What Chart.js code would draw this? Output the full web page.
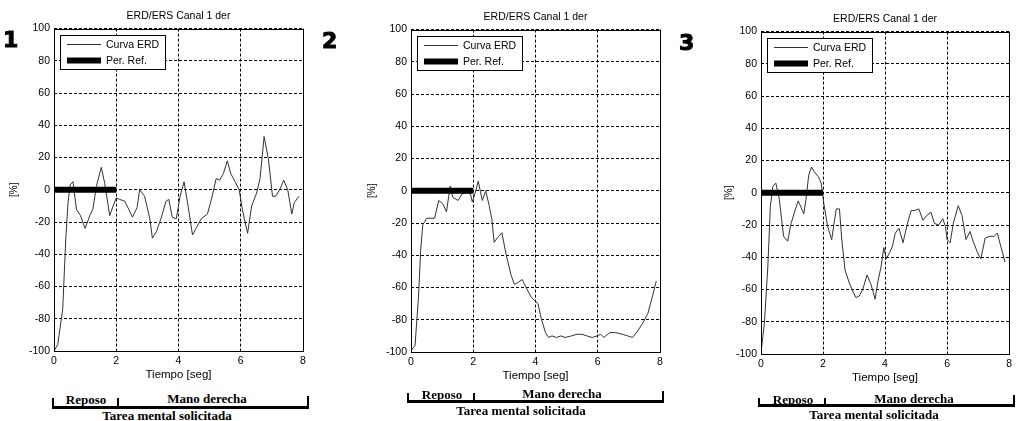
<!DOCTYPE html>
<html>
<head>
<meta charset="utf-8">
<script src="https://cdn.jsdelivr.net/npm/chart.js@4.4.0/dist/chart.umd.min.js"></script>
<style>
  html, body { margin: 0; padding: 0; background: #fff; }
  body { width: 1016px; height: 421px; overflow: hidden; position: relative; font-family: "Liberation Sans", Arial, sans-serif; }
  .panel { position: absolute; }
  .num { position: absolute; font: bold 22px "DejaVu Sans", sans-serif; line-height: 22px; color: #000; -webkit-text-stroke: 1px #000; }
  .br-line { position: absolute; background: #000; }
  .br-text { position: absolute; width: 200px; text-align: center; font: bold 13px "Liberation Serif", "Times New Roman", serif; line-height: 14px; color: #000; white-space: nowrap; }
</style>
</head>
<body>

<canvas id="chart1" class="panel" width="320" height="390" style="left:0px; top:0px;"></canvas>
<canvas id="chart2" class="panel" width="320" height="390" style="left:357px; top:1px;"></canvas>
<canvas id="chart3" class="panel" width="309" height="390" style="left:707px; top:3px;"></canvas>

<div class="num" style="left:3px; top:29px;">1</div>
<div class="num" style="left:322px; top:30px;">2</div>
<div class="num" style="left:679px; top:32px;">3</div>

<script>
const chartTitle = 'ERD/ERS Canal 1 der';
const xTickValues = [0, 2, 4, 6, 8];
const yTickValues = [-100, -80, -60, -40, -20, 0, 20, 40, 60, 80, 100];

// reference period (Per. Ref.)
const refTimes = [0, 2];
const refValues = [0, 0];

// panel 1
const times1 = [0, 0.12, 0.28, 0.38, 0.45, 0.52, 0.61, 0.72, 0.85, 1.0, 1.15, 1.25, 1.36, 1.52, 1.63, 1.79, 1.9, 2.0, 2.11, 2.27,
  2.4, 2.52, 2.67, 2.75, 2.91, 3.08, 3.16, 3.29, 3.45, 3.6, 3.69, 3.8, 3.93, 4.05, 4.18, 4.29, 4.45, 4.56, 4.73, 4.93,
  5.07, 5.21, 5.32, 5.44, 5.57, 5.68, 5.82, 5.95, 6.05, 6.14, 6.22, 6.35, 6.51, 6.62, 6.75, 6.89, 7.02, 7.12, 7.25, 7.38,
  7.51, 7.64, 7.72, 7.87];
const erd1 = [-100, -96, -74, -30, -8, 3, 5, -12, -16, -24, -16, -12, 2, 14, 4, -16, -10, -5, -6, -7,
  -12, -17, -11, 0, -4, -18, -30, -26, -17, -7, -6, -17, -18, -4, 5, -8, -28, -24, -18, -15,
  -5, 7, 6, 10, 18, 10, 5, 0, -12, -20, -27, -10, -2, 7, 33, 19, -4, -4, 0, 6,
  0, -15, -8, -4];

// panel 2
const times2 = [0, 0.13, 0.24, 0.31, 0.38, 0.51, 0.76, 0.89, 1.02, 1.14, 1.26, 1.34, 1.51, 1.64, 1.77, 1.91, 1.97, 2.08, 2.16, 2.29,
  2.4, 2.51, 2.6, 2.67, 2.78, 2.92, 3.05, 3.21, 3.32, 3.43, 3.57, 3.7, 3.86, 3.97, 4.08, 4.18, 4.32, 4.42, 4.53, 4.67,
  4.82, 4.95, 5.16, 5.33, 5.49, 5.65, 5.82, 5.98, 6.09, 6.2, 6.38, 6.58, 6.79, 6.96, 7.12, 7.28, 7.45, 7.61, 7.75, 7.88];
const erd2 = [-99, -96, -66, -37, -21, -17, -17, -6, -8, -13, 3, -4, -6, -2, -1, -2, -7, 0, 6, -6,
  0, -9, -18, -32, -29, -26, -39, -52, -58, -57, -55, -60, -66, -68, -70, -79, -88, -91, -90, -91,
  -90, -91, -90, -89, -89, -90, -91, -90, -89, -91, -88, -88, -89, -90, -91, -87, -82, -76, -66, -56];

// panel 3
const times3 = [0, 0.11, 0.22, 0.3, 0.38, 0.48, 0.59, 0.73, 0.86, 0.97, 1.08, 1.2, 1.29, 1.38, 1.45, 1.54, 1.63, 1.72, 1.85, 1.94,
  2.02, 2.15, 2.28, 2.37, 2.43, 2.53, 2.6, 2.71, 2.85, 2.96, 3.06, 3.17, 3.28, 3.42, 3.55, 3.68, 3.76, 3.87, 3.96, 4.04,
  4.15, 4.24, 4.33, 4.45, 4.58, 4.71, 4.84, 4.95, 5.09, 5.22, 5.35, 5.48, 5.59, 5.73, 5.86, 5.95, 6.0, 6.1, 6.2, 6.36,
  6.48, 6.61, 6.74, 6.84, 6.98, 7.09, 7.23, 7.38, 7.52, 7.62, 7.73, 7.87];
const erd3 = [-99, -81, -46, -9, 4, 6, -4, -27, -30, -19, -12, -5, -9, -13, -4, 11, 16, 13, 10, 6,
  -6, -21, -29, -17, -10, -10, -28, -48, -56, -61, -65, -64, -60, -51, -57, -66, -56, -46, -34, -41,
  -37, -33, -25, -22, -31, -20, -11, -11, -10, -17, -14, -12, -19, -20, -16, -21, -29, -31, -19, -8,
  -14, -29, -24, -30, -37, -41, -28, -27, -27, -25, -33, -43];

const FONT = '"Liberation Sans", Arial, sans-serif';

// axes box + legend drawn inside the plot area, matlab style
const axesBox = {
  id: 'axesBox',
  afterDatasetsDraw(chart) {
    const { ctx, chartArea: a } = chart;
    ctx.save();
    ctx.strokeStyle = '#000';
    ctx.lineWidth = 1;
    ctx.setLineDash([]);
    const l = Math.round(a.left) + 0.5, t = Math.round(a.top) + 0.5;
    ctx.strokeRect(l, t, Math.round(a.right) - Math.round(a.left), Math.round(a.bottom) - Math.round(a.top));

    const bx = Math.round(a.left) + 6, by = Math.round(a.top) + 6;
    ctx.fillStyle = '#fff';
    ctx.fillRect(bx, by, 105, 34);
    ctx.strokeRect(bx + 0.5, by + 0.5, 105, 34);
    ctx.font = '10.5px ' + FONT;
    ctx.textBaseline = 'middle';
    chart.data.datasets.forEach((ds, i) => {
      const ly = by + 9 + i * 16;
      ctx.beginPath();
      ctx.lineWidth = ds.borderWidth;
      ctx.strokeStyle = ds.borderColor;
      ctx.moveTo(bx + 7, ly + 0.5);
      ctx.lineTo(bx + 41, ly + 0.5);
      ctx.stroke();
      ctx.fillStyle = '#000';
      ctx.fillText(ds.label, bx + 46, ly + 1);
    });
    ctx.restore();
  }
};

function makePanel(id, times, values, opts) {
  return new Chart(document.getElementById(id), {
    type: 'line',
    data: {
      datasets: [
        {
          label: 'Curva ERD',
          data: times.map((t, i) => ({ x: t, y: values[i] })),
          borderColor: '#333',
          borderWidth: 1,
          pointRadius: 0,
          tension: 0,
          order: 1
        },
        {
          label: 'Per. Ref.',
          data: refTimes.map((t, i) => ({ x: t, y: refValues[i] })),
          borderColor: '#000',
          borderWidth: 6,
          borderCapStyle: 'butt',
          pointRadius: 0,
          order: 0
        }
      ]
    },
    options: {
      responsive: false,
      animation: false,
      layout: { padding: { left: 0, right: opts.padRight, top: 0, bottom: 0 } },
      plugins: {
        legend: { display: false },
        tooltip: { enabled: false },
        title: {
          display: true,
          text: chartTitle,
          fullSize: false,
          color: '#000',
          font: { family: FONT, size: 10.5, weight: 'normal' },
          padding: { top: 10, bottom: 6 }
        }
      },
      scales: {
        x: {
          type: 'linear',
          min: 0,
          max: 8,
          afterBuildTicks: s => { s.ticks = xTickValues.map(v => ({ value: v })); },
          afterFit: s => { s.height = 39; },
          ticks: { color: '#000', font: { family: FONT, size: 10.5 }, padding: 4, maxRotation: 0 },
          grid: { color: '#000', lineWidth: 1, drawTicks: false },
          border: { display: false, dash: [3, 2] },
          title: { display: true, text: 'Tiempo [seg]', color: '#000', font: { family: FONT, size: 11.5 }, padding: { top: 0, bottom: 8 } }
        },
        y: {
          min: -100,
          max: 100,
          afterBuildTicks: s => { s.ticks = yTickValues.map(v => ({ value: v })); },
          afterFit: s => { s.width = 54; },
          ticks: { color: '#000', font: { family: FONT, size: 10.5 }, padding: 4 },
          grid: { color: '#000', lineWidth: 1, drawTicks: false },
          border: { display: false, dash: [3, 2] },
          title: { display: true, text: '[%]', color: '#000', font: { family: FONT, size: 10 }, padding: { top: opts.yTitlePad, bottom: 0 } }
        }
      }
    },
    plugins: [axesBox]
  });
}

makePanel('chart1', times1, erd1, { padRight: 17, yTitlePad: 8 });
makePanel('chart2', times2, erd2, { padRight: 17, yTitlePad: 9 });
makePanel('chart3', times3, erd3, { padRight: 6, yTitlePad: 16 });

// task brackets under each panel
function addBracket(b) {
  const parts = [
    [b.x0, b.lineY - 1, b.x1 - b.x0 + 2, 3],
    [b.x0, b.tickTop, 2, b.lineY - b.tickTop + 2],
    [b.xm, b.tickTop, 2, b.lineY - b.tickTop + 2],
    [b.x1, b.rightTop, 2, b.lineY - b.rightTop + 2]
  ];
  parts.forEach(([l, t, w, h]) => {
    const d = document.createElement('div');
    d.className = 'br-line';
    d.style.cssText = `left:${l}px; top:${t}px; width:${w}px; height:${h}px;`;
    document.body.appendChild(d);
  });
  [['Reposo', b.reposo], ['Mano derecha', b.mano], ['Tarea mental solicitada', b.tarea]].forEach(([txt, [cx, cy]]) => {
    const d = document.createElement('div');
    d.className = 'br-text';
    d.textContent = txt;
    d.style.left = (cx - 100) + 'px';
    d.style.top = (cy - 7) + 'px';
    document.body.appendChild(d);
  });
}

addBracket({ x0: 52, xm: 117, x1: 307, lineY: 407, tickTop: 398, rightTop: 396, reposo: [86, 400], mano: [207, 399], tarea: [167, 416] });
addBracket({ x0: 407, xm: 473, x1: 662, lineY: 401, tickTop: 393, rightTop: 391, reposo: [442, 395], mano: [562, 394], tarea: [521, 411] });
addBracket({ x0: 758, xm: 824, x1: 1013, lineY: 405, tickTop: 398, rightTop: 395, reposo: [793, 400], mano: [914, 399], tarea: [874, 415] });
</script>
</body>
</html>
